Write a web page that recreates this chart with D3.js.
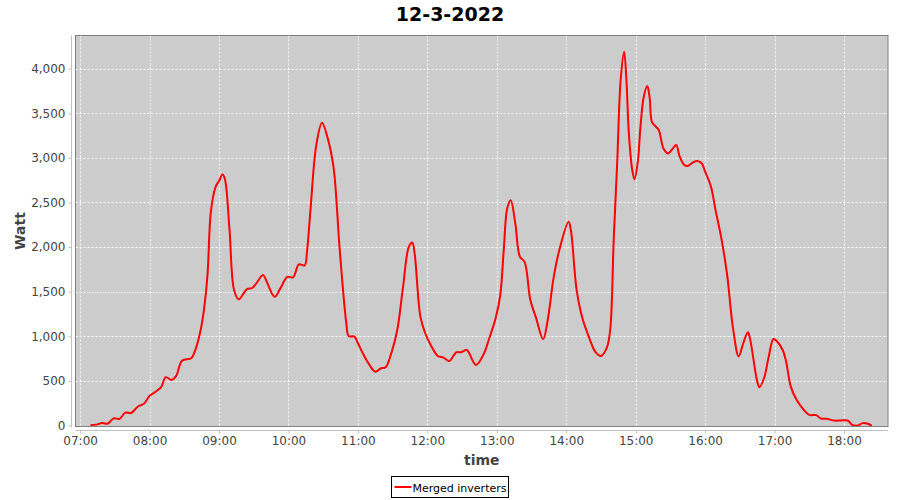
<!DOCTYPE html>
<html>
<head>
<meta charset="utf-8">
<script src="https://cdn.jsdelivr.net/npm/d3@7"></script>
<style>
  body { margin: 0; background: #fff; }
  svg { font-family: "DejaVu Sans", sans-serif; }
</style>
</head>
<body>
<script>
// chart data (12-3-2022)
var chartTitle = "12-3-2022";
var seriesName = "Merged inverters";
var yTicks = [0, 500, 1000, 1500, 2000, 2500, 3000, 3500, 4000];

var times = [
  "07:09","07:14","07:19","07:24","07:29","07:34","07:39","07:44","07:50","07:55",
  "08:00","08:05","08:10","08:14","08:19","08:23","08:28","08:36","08:39","08:44",
  "08:47","08:50","08:53","08:57","09:00","09:03","09:05","09:09","09:13","09:17",
  "09:24","09:29","09:38","09:40","09:48","09:53","09:59","10:04","10:09","10:14",
  "10:16","10:19","10:24","10:29","10:34","10:39","10:42","10:44","10:50","10:52",
  "10:57","11:00","11:05","11:10","11:15","11:20","11:24","11:29","11:34","11:39",
  "11:44","11:47","11:49","11:54","11:58","12:03","12:09","12:14","12:19","12:25",
  "12:29","12:34","12:42","12:49","12:53","12:59","13:03","13:06","13:09","13:12",
  "13:16","13:20","13:24","13:29","13:34","13:40","13:44","13:49","13:54","14:02",
  "14:04","14:09","14:14","14:20","14:25","14:30","14:35","14:38","14:41","14:44",
  "14:47","14:50","14:52","14:54","14:57","14:59","15:02","15:04","15:07","15:10",
  "15:12","15:14","15:17","15:20","15:24","15:28","15:32","15:35","15:38","15:42",
  "15:45","15:49","15:53","15:57","16:00","16:05","16:09","16:14","16:19","16:24",
  "16:29","16:33","16:37","16:39","16:45","16:47","16:51","16:55","16:59","17:02",
  "17:07","17:10","17:14","17:19","17:24","17:30","17:36","17:40","17:45","17:51",
  "17:57","18:03","18:07","18:12","18:16","18:20","18:24"
];
var watts = [
  5, 10, 27, 22, 80, 75, 145, 140, 213, 243,
  332, 377, 430, 542, 511, 556, 727, 754, 828, 1063,
  1300, 1680, 2400, 2674, 2742, 2813, 2768, 2209, 1518, 1414,
  1526, 1544, 1686, 1649, 1443, 1537, 1667, 1661, 1806, 1795,
  1950, 2414, 3141, 3395, 3216, 2891, 2414, 2022, 1146, 1004,
  996, 922, 791, 679, 604, 642, 653, 817, 1071, 1555,
  2003, 2052, 1929, 1220, 1040, 900, 780, 761, 724, 821,
  821, 847, 679, 810, 959, 1202, 1463, 1966, 2433, 2526,
  2265, 1891, 1835, 1406, 1202, 967, 1183, 1649, 1966, 2283,
  2190, 1518, 1202, 978, 828, 780, 870, 1075, 2080, 2940,
  3870, 4190, 3870, 3295, 2865, 2760, 2975, 3330, 3685, 3805,
  3685, 3405, 3355, 3310, 3105, 3050, 3105, 3145, 3015, 2920,
  2910, 2945, 2965, 2940, 2845, 2680, 2415, 2100, 1690, 1100,
  775, 925, 1045, 960, 495, 430, 535, 775, 970, 945,
  847, 716, 436, 288, 195, 120, 116, 78, 75, 56,
  56, 56, 8, 0, 27, 22, 0
];

var width = 900, height = 500;
var plot = {left: 75.5, top: 35.5, right: 888, bottom: 426.5};

var parseTime = d3.timeParse("%Y-%m-%d %H:%M");
var data = times.map(function (t, i) {
  return {t: parseTime("2022-03-12 " + t), v: watts[i]};
});

var svg = d3.select(document.body)
  .append("svg")
  .attr("width", width)
  .attr("height", height);

var x = d3.scaleTime()
  .domain([parseTime("2022-03-12 06:56"), parseTime("2022-03-12 18:38")])
  .range([plot.left, plot.right]);

var y = d3.scaleLinear()
  .domain([-11, 4372])
  .range([plot.bottom, plot.top]);

// plot background
svg.append("rect")
  .attr("x", plot.left)
  .attr("y", plot.top)
  .attr("width", plot.right - plot.left)
  .attr("height", plot.bottom - plot.top)
  .attr("fill", "#cccccc");

// grid lines
var hours = x.ticks(d3.timeHour.every(1));
svg.append("g").selectAll("line")
  .data(hours)
  .join("line")
  .attr("x1", function (d) { return Math.round(x(d)) + 0.5; })
  .attr("x2", function (d) { return Math.round(x(d)) + 0.5; })
  .attr("y1", plot.top)
  .attr("y2", plot.bottom)
  .attr("stroke", "#ffffff")
  .attr("stroke-width", 1)
  .attr("stroke-dasharray", "2,2");

svg.append("g").selectAll("line")
  .data(yTicks)
  .join("line")
  .attr("x1", plot.left)
  .attr("x2", plot.right)
  .attr("y1", function (d) { return Math.round(y(d)) + 0.5; })
  .attr("y2", function (d) { return Math.round(y(d)) + 0.5; })
  .attr("stroke", "#ffffff")
  .attr("stroke-width", 1)
  .attr("stroke-dasharray", "2,2");

// the series
var line = d3.line()
  .x(function (d) { return x(d.t); })
  .y(function (d) { return y(d.v); })
  .curve(d3.curveCatmullRom.alpha(0.5));

svg.append("path")
  .datum(data)
  .attr("fill", "none")
  .attr("stroke", "#ff0000")
  .attr("stroke-width", 2)
  .attr("stroke-linejoin", "round")
  .attr("d", line);

// plot outline
svg.append("rect")
  .attr("x", plot.left)
  .attr("y", plot.top)
  .attr("width", plot.right - plot.left)
  .attr("height", plot.bottom - plot.top)
  .attr("fill", "none")
  .attr("stroke", "#808080")
  .attr("stroke-width", 1);

// axes
var yAxis = d3.axisLeft(y)
  .tickValues(yTicks)
  .tickFormat(d3.format(","))
  .tickSizeInner(3)
  .tickSizeOuter(0)
  .tickPadding(3);

var gy = svg.append("g")
  .attr("transform", "translate(71.5,0)")
  .call(yAxis);
gy.select(".domain").attr("stroke", "#c0c0c0").attr("d", "M0," + plot.top + "V" + (plot.bottom + 1));
gy.selectAll(".tick line").attr("stroke", "#c0c0c0");
gy.selectAll(".tick text")
  .attr("fill", "#444444")
  .style("font-size", "12px")
  .style("font-family", "DejaVu Sans, sans-serif");

var xAxis = d3.axisBottom(x)
  .tickValues(hours)
  .tickFormat(d3.timeFormat("%H:%M"))
  .tickSizeInner(3)
  .tickSizeOuter(0)
  .tickPadding(3);

var gx = svg.append("g")
  .attr("transform", "translate(0,430.5)")
  .call(xAxis);
gx.select(".domain").attr("stroke", "#c0c0c0").attr("d", "M" + plot.left + ",0H" + plot.right);
gx.selectAll(".tick line").attr("stroke", "#c0c0c0");
gx.selectAll(".tick text")
  .attr("fill", "#444444")
  .style("font-size", "12px")
  .style("font-family", "DejaVu Sans, sans-serif");

// title and axis labels
svg.append("text")
  .attr("x", width / 2)
  .attr("y", 21)
  .attr("text-anchor", "middle")
  .style("font-size", "19px")
  .style("font-weight", "bold")
  .attr("fill", "#000")
  .text(chartTitle);

svg.append("text")
  .attr("x", (plot.left + plot.right) / 2)
  .attr("y", 465)
  .attr("text-anchor", "middle")
  .style("font-size", "14px")
  .style("font-weight", "bold")
  .attr("fill", "#444444")
  .text("time");

svg.append("text")
  .attr("transform", "translate(25," + ((plot.top + plot.bottom) / 2) + ") rotate(-90)")
  .attr("text-anchor", "middle")
  .style("font-size", "14px")
  .style("font-weight", "bold")
  .attr("fill", "#444444")
  .text("Watt");

// legend
var legend = svg.append("g").attr("transform", "translate(391.5,476.5)");
legend.append("rect")
  .attr("width", 117)
  .attr("height", 21)
  .attr("fill", "#fff")
  .attr("stroke", "#000");
legend.append("line")
  .attr("x1", 3).attr("x2", 20)
  .attr("y1", 10.5).attr("y2", 10.5)
  .attr("stroke", "#ff0000")
  .attr("stroke-width", 2);
legend.append("text")
  .attr("x", 21)
  .attr("y", 15)
  .style("font-size", "11px")
  .attr("fill", "#000")
  .text(seriesName);
</script>
</body>
</html>
